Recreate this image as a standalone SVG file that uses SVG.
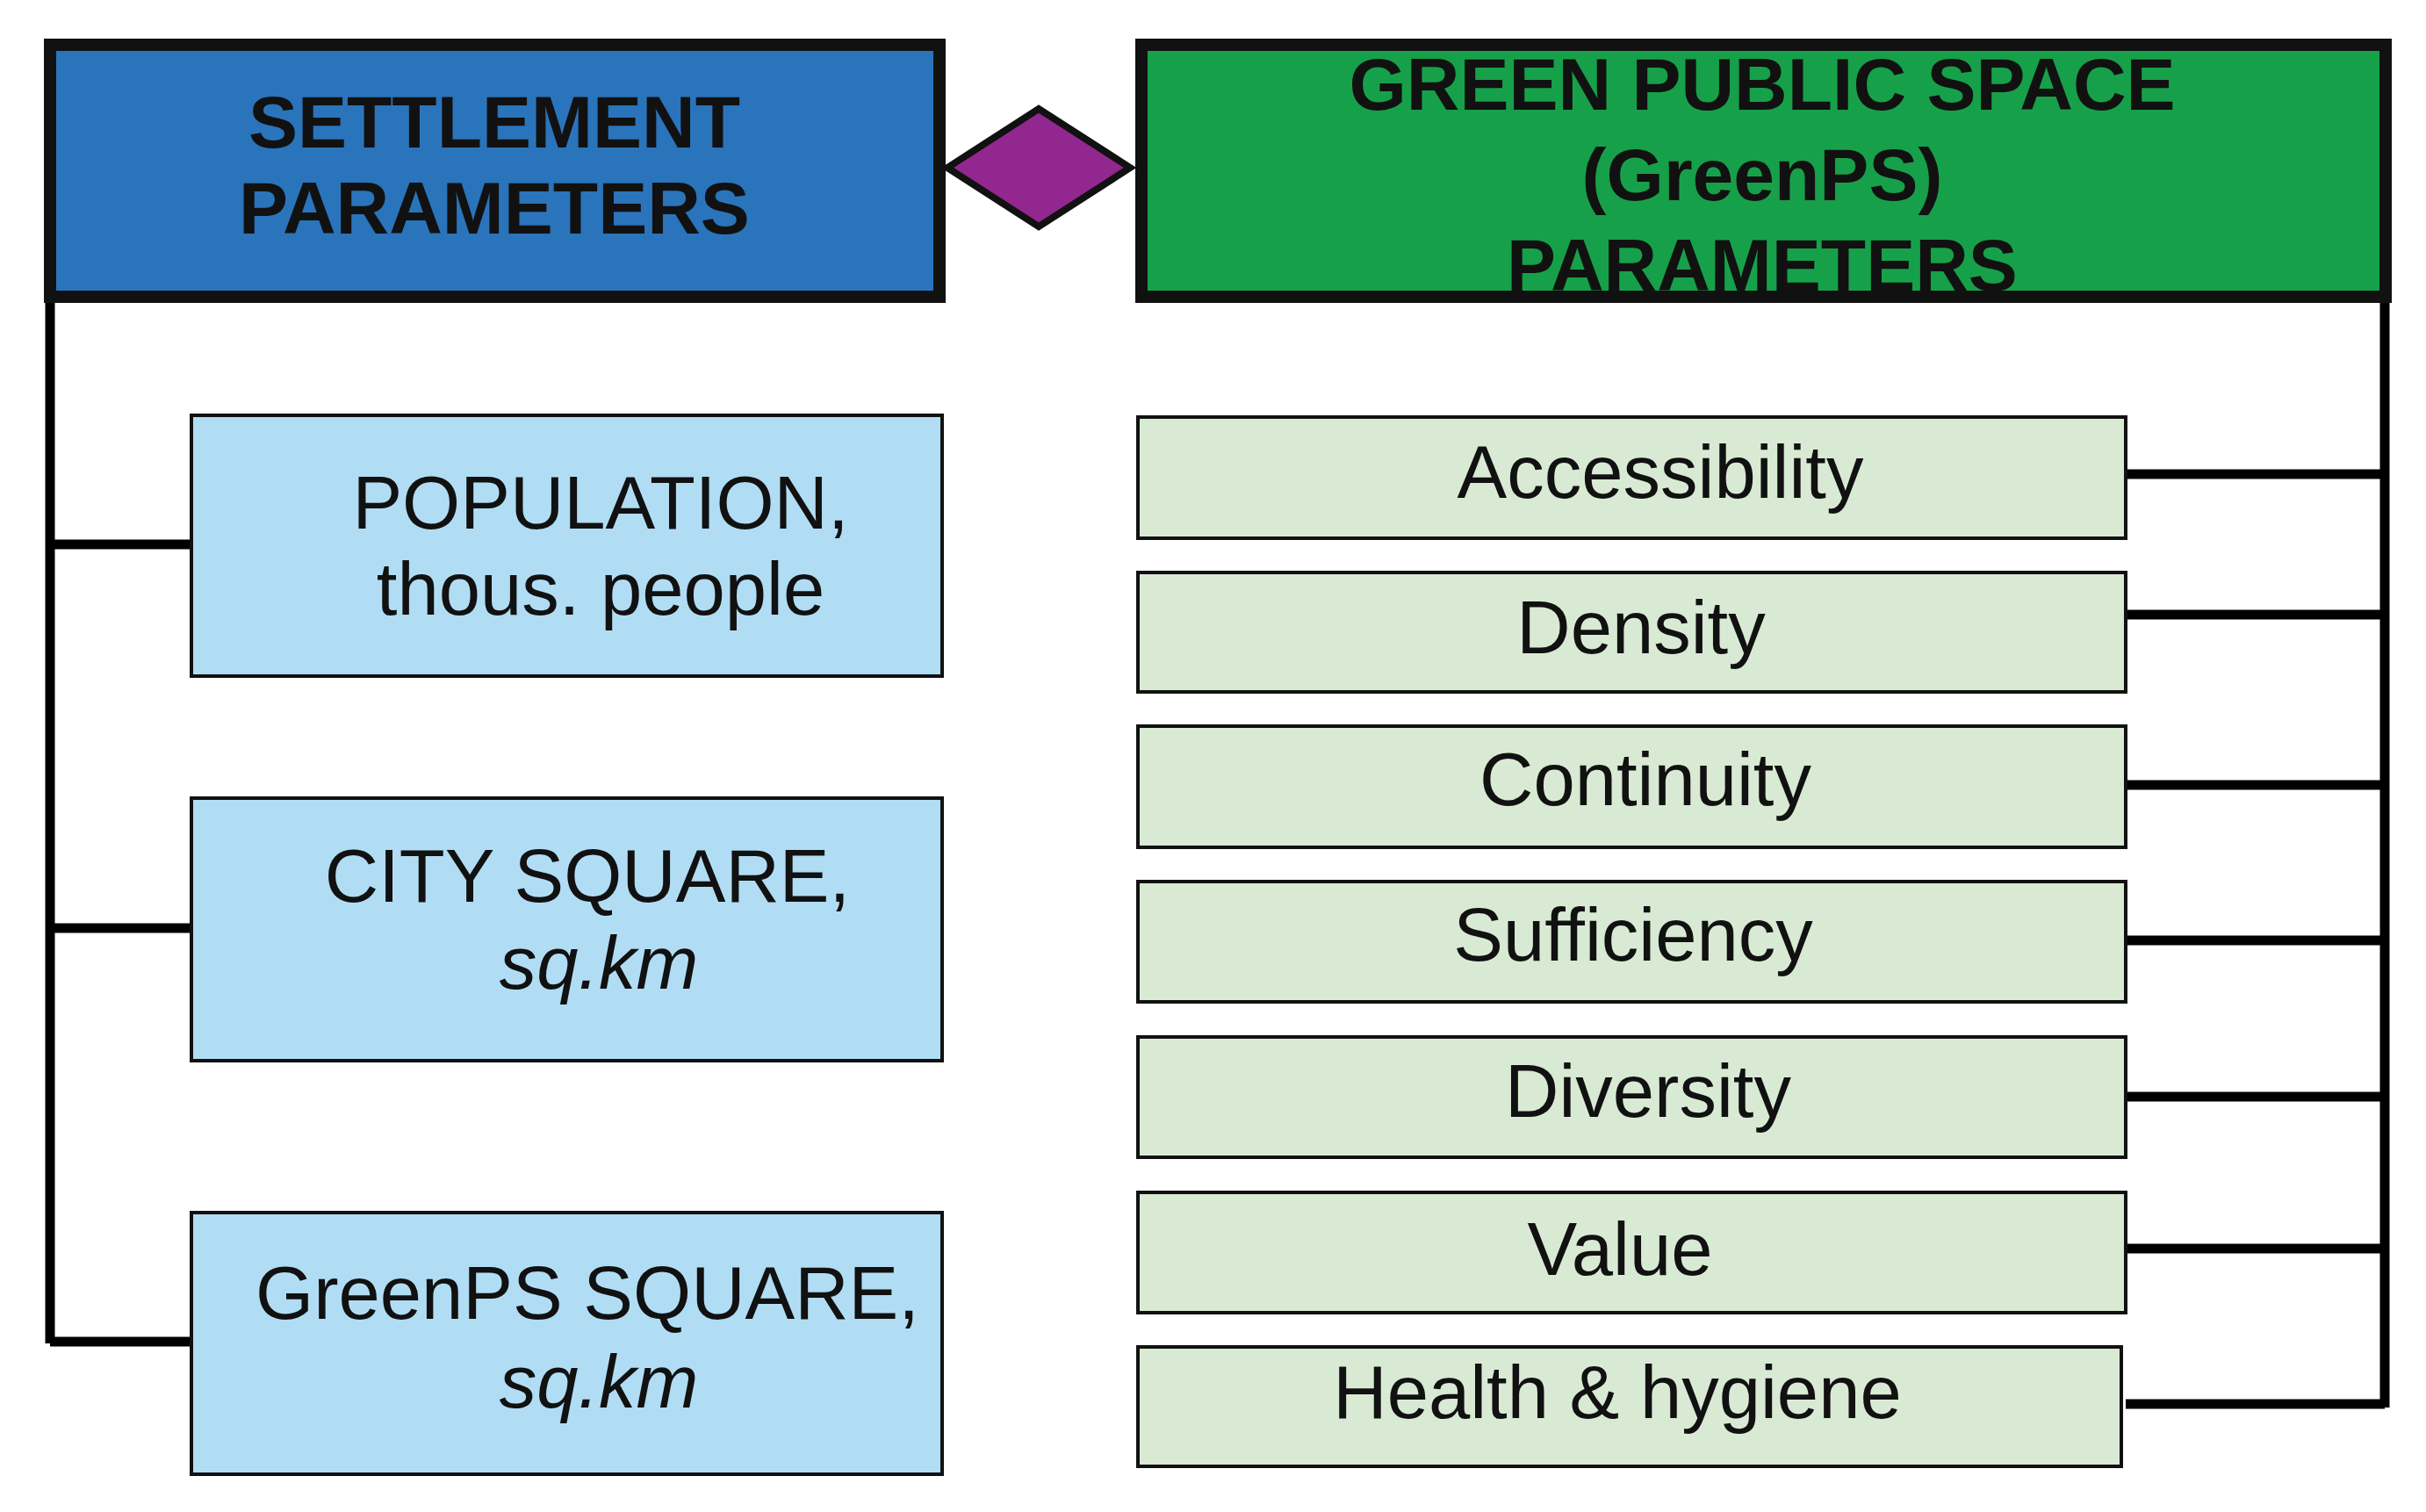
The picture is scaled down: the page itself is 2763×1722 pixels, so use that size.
<svg xmlns="http://www.w3.org/2000/svg" width="2763" height="1722" viewBox="0 0 2763 1722">
<style>
text{font-family:"Liberation Sans",Arial,sans-serif;fill:#111;text-anchor:middle}
.h{font-weight:bold;font-size:84px}
.t{font-size:85px}
.i{font-style:italic}
.sb{fill:#b1ddf4;stroke:#111;stroke-width:4}
.sg{fill:#d8ead3;stroke:#111;stroke-width:4}
.c{stroke:#000;stroke-width:11;fill:none}
</style>
<rect width="2763" height="1722" fill="#fff"/>
<g id="connectors">
<path class="c" stroke-width="9" d="M57 340V1530"/>
<path class="c" d="M57 620H218M57 1057H218M57 1528H218"/>
<path class="c" stroke-width="9" d="M2716 340V1603"/>
<path class="c" d="M2421 540H2716M2421 700H2716M2421 894H2716M2421 1071H2716M2421 1249H2716M2421 1422H2716M2421 1599H2716"/>
<polygon points="1079,191 1183,124 1287,191 1183,258" fill="#92278f" stroke="#111" stroke-width="8"/>
</g>
<g id="settlement"><rect x="57" y="51" width="1013" height="287" fill="#2a74bb" stroke="#111" stroke-width="14"/>
<text class="h" x="563" y="168">SETTLEMENT</text><text class="h" x="563" y="266">PARAMETERS</text></g>
<g id="greenps"><rect x="1300" y="51" width="1417" height="287" fill="#17a04a" stroke="#111" stroke-width="14"/>
<text class="h" x="2007" y="125">GREEN PUBLIC SPACE</text><text class="h" x="2007" y="228">(GreenPS)</text><text class="h" x="2007" y="331">PARAMETERS</text></g>
<g id="population"><rect class="sb" x="218" y="473" width="855" height="297"/>
<text class="t" x="684" y="602">POPULATION,</text><text class="t" x="684" y="700">thous. people</text></g>
<g id="citysquare"><rect class="sb" x="218" y="909" width="855" height="299"/>
<text class="t" x="669" y="1027">CITY SQUARE,</text><text class="t i" x="682" y="1126">sq.km</text></g>
<g id="greenpssquare"><rect class="sb" x="218" y="1381" width="855" height="298"/>
<text class="t" x="669" y="1502">GreenPS SQUARE,</text><text class="t i" x="682" y="1603">sq.km</text></g>
<g id="accessibility"><rect class="sg" x="1296" y="475" width="1125" height="138"/><text class="t" x="1891" y="567">Accessibility</text></g>
<g id="density"><rect class="sg" x="1296" y="652" width="1125" height="136"/><text class="t" x="1869" y="744">Density</text></g>
<g id="continuity"><rect class="sg" x="1296" y="827" width="1125" height="138"/><text class="t" x="1874" y="917">Continuity</text></g>
<g id="sufficiency"><rect class="sg" x="1296" y="1004" width="1125" height="137"/><text class="t" x="1860" y="1094">Sufficiency</text></g>
<g id="diversity"><rect class="sg" x="1296" y="1181" width="1125" height="137"/><text class="t" x="1877" y="1272">Diversity</text></g>
<g id="value"><rect class="sg" x="1296" y="1358" width="1125" height="137"/><text class="t" x="1845" y="1452">Value</text></g>
<g id="health"><rect class="sg" x="1296" y="1534" width="1120" height="136"/><text class="t" x="1842" y="1615">Health &amp; hygiene</text></g>
</svg>
